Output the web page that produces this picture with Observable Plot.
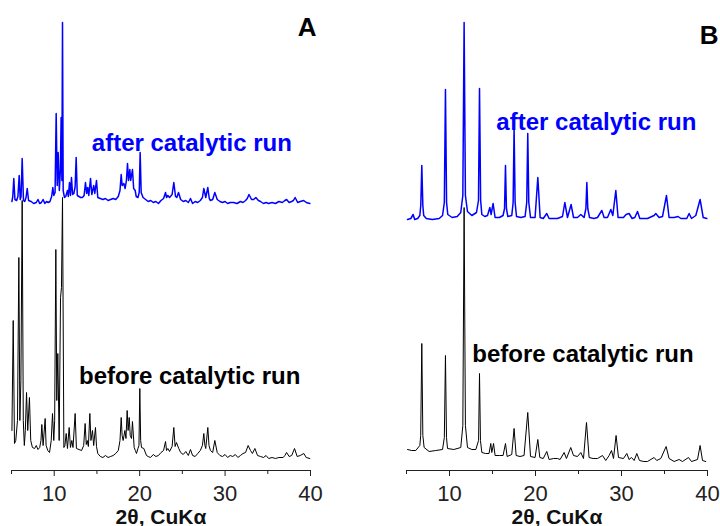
<!DOCTYPE html>
<html>
<head>
<meta charset="utf-8">
<script src="https://cdn.jsdelivr.net/npm/d3@7"></script>
<script src="https://cdn.jsdelivr.net/npm/@observablehq/plot@0.6"></script>
<style>
  html, body { margin: 0; padding: 0; background: #fff; }
  #wrap { display: flex; width: 720px; height: 526px; overflow: hidden; }
  svg { font-family: "Liberation Sans", Arial, sans-serif; }
</style>
</head>
<body>
<div id="wrap"></div>
<script>
// ---- data: [2θ (deg), intensity (a.u., stacked offsets included)] ----
const panelA_before = [
  [5.05,40],[5.2,150],[5.35,27],[5.5,30],[5.7,50],[5.86,213],[5.98,50],[6.1,90],[6.25,270],[6.38,50],
  [6.5,25],[6.62,40],[6.76,78],[6.9,40],[7.1,73],[7.25,30],[7.45,23],[7.7,22],[7.9,25],[8.1,21],
  [8.3,23],[8.45,30],[8.55,46],[8.7,25],[8.94,52],[9.05,25],[9.25,20],[9.45,18],[9.65,30],[9.8,57],
  [9.95,30],[10.05,50],[10.19,221],[10.3,70],[10.42,117],[10.58,30],[10.74,173],[10.85,183],[10.97,273],[11.13,23],
  [11.25,25],[11.4,37],[11.55,22],[11.75,43],[11.9,23],[12.06,30],[12.2,23],[12.45,57],[12.6,22],[12.9,21],
  [13.2,20],[13.45,25],[13.62,47],[13.75,26],[13.86,30],[14.0,24],[14.17,57],[14.3,30],[14.48,40],[14.62,25],
  [14.83,43],[14.95,24],[15.1,17],[15.4,14],[15.7,13],[16.0,15],[16.3,13],[16.6,14],[16.9,15],[17.2,17],
  [17.5,20],[17.7,30],[17.84,53],[17.95,35],[18.07,30],[18.27,40],[18.4,32],[18.54,60],[18.65,40],[18.78,53],
  [18.9,35],[19.05,32],[19.16,49],[19.36,23],[19.5,20],[19.63,17],[19.8,22],[19.92,25],[20.02,82],[20.12,30],
  [20.22,23],[20.49,22],[20.8,15],[21.0,14],[21.27,13],[21.6,16],[21.9,14],[22.2,15],[22.5,18],[22.8,20],
  [23.03,29],[23.15,20],[23.3,22],[23.5,19],[23.8,24],[24.0,43],[24.15,24],[24.31,28],[24.58,22],[24.8,18],
  [25.1,16],[25.4,19],[25.7,15],[25.95,21],[26.2,15],[26.5,14],[26.8,17],[27.1,20],[27.35,25],[27.51,37],
  [27.64,25],[27.74,22],[27.98,43],[28.12,25],[28.29,20],[28.55,18],[28.8,30],[29.08,18],[29.4,15],[29.7,14],
  [30.0,16],[30.3,13],[30.6,15],[30.9,14],[31.2,16],[31.5,13],[31.8,15],[32.1,17],[32.4,18],[32.7,25],
  [32.98,20],[33.2,17],[33.49,22],[33.8,15],[34.15,14],[34.5,13],[34.8,15],[35.1,12],[35.5,13],[35.9,12],
  [36.3,13],[36.8,13],[37.0,15],[37.2,18],[37.5,14],[37.8,15],[38.13,22],[38.44,14],[38.8,15],[39.22,17],
  [39.5,13],[39.92,12]
];
const panelA_after = [
  [5.05,269],[5.15,274],[5.27,292],[5.4,271],[5.6,270],[5.75,274],[5.9,295],[6.02,271],[6.12,274],[6.25,312],
  [6.4,270],[6.55,269],[6.7,273],[6.84,282],[7.0,270],[7.3,269],[7.6,267],[7.9,268],[8.1,271],[8.3,267],
  [8.5,268],[8.7,271],[8.9,267],[9.1,269],[9.3,268],[9.5,269],[9.7,274],[9.84,283],[9.95,275],[10.1,278],
  [10.23,357],[10.35,285],[10.46,318],[10.6,280],[10.72,300],[10.81,353],[10.9,290],[10.97,448],[11.05,280],[11.2,273],
  [11.35,274],[11.55,280],[11.65,274],[11.79,288],[11.9,275],[12.02,293],[12.15,276],[12.3,277],[12.45,284],[12.57,313],
  [12.7,275],[12.9,274],[13.1,273],[13.3,273],[13.5,275],[13.66,288],[13.8,277],[13.93,283],[14.05,275],[14.25,292],
  [14.4,276],[14.63,285],[14.75,277],[14.95,290],[15.1,273],[15.4,272],[15.7,271],[16.0,272],[16.3,270],[16.6,271],
  [16.9,272],[17.2,271],[17.5,274],[17.7,280],[17.84,296],[17.95,285],[18.15,287],[18.3,282],[18.45,290],[18.58,307],
  [18.7,290],[18.85,301],[18.95,290],[19.16,301],[19.3,282],[19.48,280],[19.6,274],[19.8,273],[19.95,278],[20.06,318],
  [20.18,278],[20.4,273],[20.7,271],[21.0,269],[21.3,270],[21.6,268],[21.9,269],[22.2,267],[22.5,270],[22.8,272],
  [23.03,278],[23.15,273],[23.3,275],[23.5,273],[23.8,276],[24.0,288],[24.2,274],[24.35,273],[24.55,278],[24.8,271],
  [25.1,269],[25.4,270],[25.7,268],[25.95,272],[26.2,267],[26.5,269],[26.8,268],[27.1,270],[27.35,273],[27.51,282],
  [27.74,273],[27.98,283],[28.15,272],[28.29,270],[28.55,271],[28.8,278],[29.08,271],[29.4,269],[29.7,268],[30.0,269],
  [30.3,267],[30.6,268],[31.0,268],[31.4,267],[31.8,269],[32.1,268],[32.4,270],[32.6,272],[32.8,276],[33.1,271],
  [33.35,271],[33.6,273],[33.9,270],[34.15,269],[34.5,267],[34.8,268],[35.1,267],[35.5,268],[35.9,267],[36.3,269],
  [36.7,268],[37.0,270],[37.2,271],[37.5,268],[37.8,269],[38.0,270],[38.2,273],[38.5,268],[38.8,269],[39.2,270],
  [39.5,268],[39.92,267]
];
const panelB_before = [
  [5.12,21],[5.6,20],[6.08,20],[6.55,25],[6.65,35],[6.78,127],[6.9,35],[7.05,23],[7.63,19],[8.4,20],
  [9.19,21],[9.4,33],[9.53,115],[9.65,33],[9.77,22],[10.5,21],[11.31,23],[11.55,45],[11.7,263],[11.85,45],
  [12.09,23],[12.6,21],[13.06,21],[13.38,30],[13.49,97],[13.6,30],[13.76,18],[14.2,17],[14.6,17],[14.8,27],
  [14.92,18],[15.12,27],[15.3,15],[15.8,15],[16.23,15],[16.51,27],[16.7,14],[17.24,16],[17.51,42],[17.75,15],
  [18.2,14],[18.67,15],[19.1,58],[19.42,14],[19.95,13],[20.27,31],[20.5,13],[20.9,12],[21.31,19],[21.58,11],
  [22.1,12],[22.56,12],[22.86,11],[23.33,18],[23.6,12],[24.1,23],[24.42,15],[24.88,14],[25.27,18],[25.58,12],
  [25.93,48],[26.23,13],[26.7,12],[27.21,12],[27.79,15],[28.17,10],[28.56,15],[28.84,20],[29.07,12],[29.37,35],
  [29.65,13],[30.23,12],[30.62,17],[30.88,11],[31.16,13],[31.47,10],[31.78,17],[32.09,10],[32.6,9],[33.02,9],
  [33.79,13],[34.1,10],[34.57,12],[35.19,24],[35.53,12],[36.12,9],[36.7,11],[37.09,9],[37.79,13],[38.14,9],
  [38.84,11],[39.14,25],[39.42,10],[39.8,9]
];
const panelB_after = [
  [5.12,251],[5.5,252],[5.77,256],[5.95,251],[6.3,252],[6.55,255],[6.66,265],[6.78,305],[6.9,265],[7.0,255],
  [7.3,252],[8.0,251],[8.8,252],[9.19,255],[9.4,268],[9.53,381],[9.66,268],[9.8,256],[10.3,253],[10.9,254],
  [11.31,258],[11.55,275],[11.7,448],[11.85,275],[12.09,259],[12.6,255],[13.14,258],[13.37,270],[13.49,382],[13.62,270],
  [13.76,256],[14.1,254],[14.42,255],[14.69,263],[14.84,256],[15.07,267],[15.3,253],[15.8,253],[16.23,255],[16.4,262],
  [16.51,305],[16.62,262],[16.78,254],[17.24,255],[17.4,268],[17.51,343],[17.63,268],[17.79,254],[18.3,253],[18.79,254],
  [18.98,268],[19.1,337],[19.22,268],[19.42,253],[19.95,253],[20.27,293],[20.54,253],[20.9,252],[21.31,257],[21.58,252],
  [22.1,252],[22.56,252],[23.14,254],[23.41,268],[23.72,253],[24.14,266],[24.42,253],[24.88,253],[25.27,256],[25.65,253],
  [25.86,262],[25.97,288],[26.08,262],[26.28,253],[26.8,252],[27.21,253],[27.71,260],[27.98,253],[28.37,253],[28.76,261],
  [28.99,255],[29.34,280],[29.6,253],[30.23,253],[30.53,256],[30.88,257],[31.23,252],[31.55,253],[31.86,259],[32.13,252],
  [32.6,252],[33.02,252],[33.79,255],[33.99,257],[34.37,253],[34.77,254],[35.23,275],[35.53,253],[36.12,253],[36.58,254],
  [36.9,252],[37.59,252],[37.86,257],[38.14,252],[38.64,255],[39.14,271],[39.5,253],[39.92,252]
];
const labelAfter = "after catalytic run";
const labelBefore = "before catalytic run";
const panelLetters = ["A", "B"];
const xLabel = "2θ, CuKα";
const majorTicks = [10, 20, 30, 40];
const minorTicks = [5, 15, 25, 35];

const toRows = (arr) => arr.map(([x, y]) => ({x, y}));

function panel({before, after, mLeft, mRight, letter, letterDx, letterDy, afterPos, beforePos}) {
  return Plot.plot({
    width: 360,
    height: 526,
    marginLeft: mLeft,
    marginRight: mRight,
    marginTop: 22,
    marginBottom: 56,
    x: {domain: [5, 40], label: null},
    y: {domain: [0, 448], axis: null},
    style: {fontFamily: "'Liberation Sans', Arial, sans-serif", background: "white", overflow: "visible"},
    marks: [
      Plot.ruleY([0], {stroke: "#222", strokeWidth: 1.2}),
      Plot.axisX(minorTicks, {tickSize: 4, tickFormat: () => "", stroke: "#222", label: null}),
      Plot.axisX(majorTicks, {tickSize: 6, tickPadding: 9, fontSize: 22, fill: "#222", stroke: "#222", label: null}),
      Plot.text([xLabel], {frameAnchor: "bottom", dy: 53, lineAnchor: "bottom", fontSize: 21, fontWeight: "bold", fill: "#111"}),
      Plot.line(toRows(before), {x: "x", y: "y", stroke: "#000", strokeWidth: 1}),
      Plot.line(toRows(after), {x: "x", y: "y", stroke: "#0000ff", strokeWidth: 1.5}),
      Plot.text([labelAfter], {x: afterPos[0], y: afterPos[1], textAnchor: "start", lineAnchor: "bottom", fontSize: 24, fontWeight: "bold", fill: "#0000ff"}),
      Plot.text([labelBefore], {x: beforePos[0], y: beforePos[1], textAnchor: "start", lineAnchor: "bottom", fontSize: 24, fontWeight: "bold", fill: "#000"}),
      Plot.text([letter], {frameAnchor: "top-right", dx: letterDx, dy: letterDy, textAnchor: "end", lineAnchor: "bottom", fontSize: 26, fontWeight: "bold", fill: "#000"})
    ]
  });
}

const wrap = document.getElementById("wrap");
wrap.appendChild(panel({
  before: panelA_before, after: panelA_after, mLeft: 11, mRight: 50,
  letter: panelLetters[0], letterDx: 6, letterDy: 13,
  afterPos: [14.4, 320], beforePos: [12.9, 87]
}));
wrap.appendChild(panel({
  before: panelB_before, after: panelB_after, mLeft: 46, mRight: 13,
  letter: panelLetters[1], letterDx: 11, letterDy: 21,
  afterPos: [15.45, 341], beforePos: [12.65, 109]
}));
</script>
</body>
</html>
